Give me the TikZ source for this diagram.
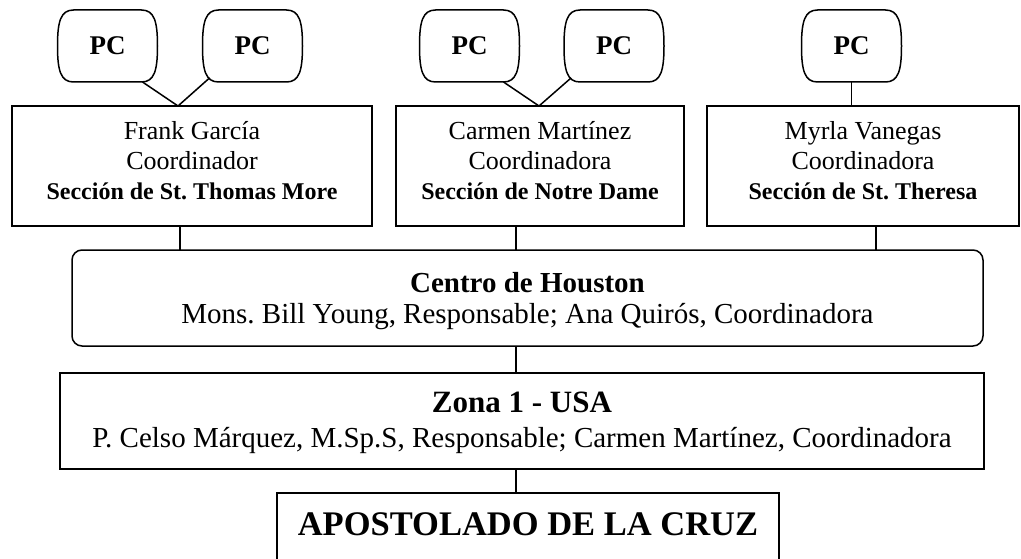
\documentclass[tikz,border=0pt]{standalone}
\usepackage{fontspec}
\setmainfont{Liberation Serif}
\frenchspacing
\begin{document}
\begin{tikzpicture}[x=1pt,y=-1pt,line width=1.5pt,
  every node/.style={inner sep=0pt,outer sep=0pt},
  pcnode/.style={minimum width=98pt,minimum height=72pt,font=\fontsize{27}{30}\selectfont\bfseries},
  pcline/.style={line width=1.5pt},
  secbox/.style={draw,rectangle,anchor=north,minimum height=120pt,align=center,
    text height=94pt,text depth=26pt,font=\fontsize{26}{30}\selectfont},
  centrobox/.style={draw,rectangle,rounded corners=10pt,anchor=north,minimum width=911pt,
    align=center,text height=73pt,text depth=23pt,font=\fontsize{29}{31}\selectfont},
  zonabox/.style={draw,rectangle,anchor=north,minimum width=924pt,
    align=center,text height=74pt,text depth=22pt,font=\fontsize{29}{35}\selectfont},
  aposbox/.style={draw,rectangle,anchor=north,minimum width=502pt,
    text height=42pt,text depth=70pt,font=\fontsize{34.5}{40}\selectfont\bfseries}
]
\useasboundingbox (0,0) rectangle (1021,559);
\clip (0,0) rectangle (1021,559);

% PC nodes
\node[pcnode] (p1) at (107.5,46) {PC};
\node[pcnode] (p2) at (252.5,46) {PC};
\node[pcnode] (p3) at (469.5,46) {PC};
\node[pcnode] (p4) at (614,46) {PC};
\node[pcnode] (p5) at (851.5,46) {PC};
\foreach \p in {p1,p2,p3,p4,p5}{
  \draw[shift={(\p.center)}] (-34,-36) .. controls (-47,-36) and (-50,-24) .. (-50,0)
     .. controls (-50,24) and (-47,36) .. (-34,36) -- (34,36)
     .. controls (47,36) and (50,24) .. (50,0)
     .. controls (50,-24) and (47,-36) .. (34,-36) -- cycle;
}

% Section boxes
\node[secbox,minimum width=360pt] (b1) at (192,106)
  {Frank García\\Coordinador\\{\fontsize{24}{30}\selectfont\bfseries Sección de St. Thomas More}};
\node[secbox,minimum width=288pt] (b2) at (540,106)
  {Carmen Martínez\\Coordinadora\\{\fontsize{24}{30}\selectfont\bfseries Sección de Notre Dame}};
\node[secbox,minimum width=312pt] (b3) at (863,106)
  {Myrla Vanegas\\Coordinadora\\{\fontsize{24}{30}\selectfont\bfseries Sección de St. Theresa}};

% Centro, Zona, Apostolado
\node[centrobox] (centro) at (527.5,250)
  {{\bfseries Centro de Houston}\\Mons. Bill Young, Responsable; Ana Quirós, Coordinadora};
\node[zonabox] (zona) at (522,373)
  {{\fontsize{31}{35}\selectfont\bfseries Zona 1 - USA}\\P. Celso Márquez, M.Sp.S, Responsable; Carmen Martínez, Coordinadora};
\node[aposbox] (apos) at (528,493) {APOSTOLADO DE LA CRUZ};

% PC connectors
\draw[pcline] ([shift={(35,36)}]p1.center) -- ([xshift=-14pt]b1.north);
\draw[pcline] ([shift={(-43,32)}]p2.center) -- ([xshift=-14pt]b1.north);
\draw[pcline] ([shift={(34,36)}]p3.center) -- ([xshift=-1pt]b2.north);
\draw[pcline] ([shift={(-43,32)}]p4.center) -- ([xshift=-1pt]b2.north);
\draw[pcline] (p5.south) -- (p5.south |- b3.north);

% Section to Centro
\draw ([xshift=-12pt]b1.south) -- ([xshift=-12pt]b1.south |- centro.north);
\draw ([xshift=-24pt]b2.south) -- ([xshift=-24pt]b2.south |- centro.north);
\draw ([xshift=13pt]b3.south) -- ([xshift=13pt]b3.south |- centro.north);

% Centro to Zona to Apostolado
\draw ([xshift=-11.5pt]centro.south) -- ([xshift=-11.5pt]centro.south |- zona.north);
\draw ([xshift=-6pt]zona.south) -- ([xshift=-6pt]zona.south |- apos.north);
\end{tikzpicture}
\end{document}
